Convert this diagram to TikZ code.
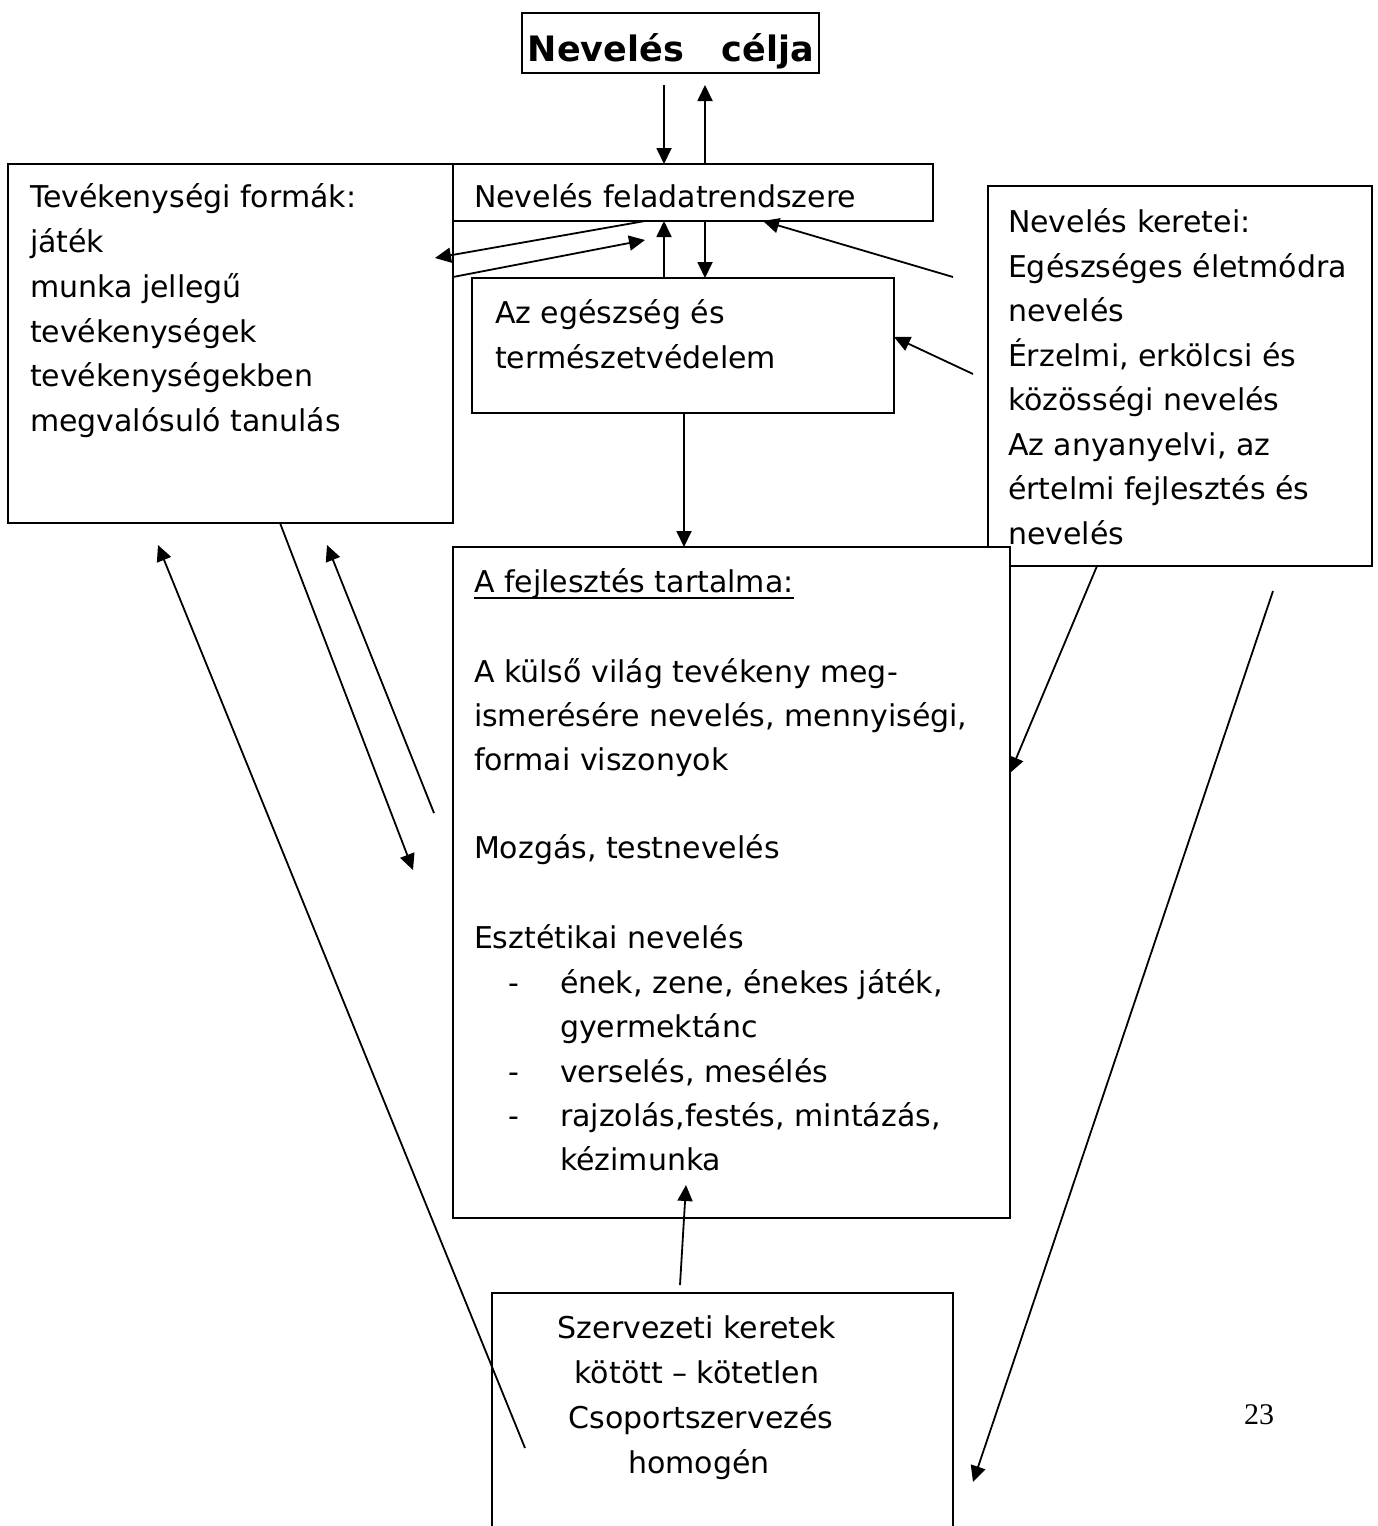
\documentclass[tikz,border=0pt]{standalone}
\usepackage{fontspec}
\setmainfont{DejaVu Sans}
\newfontfamily\pagenumfont{Liberation Serif}
\usetikzlibrary{arrows.meta}
\begin{document}
\begin{tikzpicture}[x=1pt,y=-1pt,
  box/.style={draw, line width=2.2pt, fill=white, rectangle, inner sep=0pt, outer sep=0pt, anchor=north west},
  txt/.style={anchor=base west, inner sep=0pt, outer sep=0pt, font=\fontsize{30}{36}\selectfont},
  ctxt/.style={anchor=base, inner sep=0pt, outer sep=0pt, font=\fontsize{30}{36}\selectfont},
  arr/.style={line width=1.8pt, -{Triangle[length=16pt,width=15pt]}}
]
\useasboundingbox (0,0) rectangle (1378,1526);
\clip (0,0) rectangle (1378,1526);
% boxes
\node[box, minimum width=445pt, minimum height=359pt] (tev) at (8,164) {};
\node[box, minimum width=480pt, minimum height=57pt] (fel) at (453,164) {};
\node[box, minimum width=297pt, minimum height=60pt] (cel) at (522,13) {};
\node[box, minimum width=422pt, minimum height=135pt] (egs) at (472,278) {};
\node[box, minimum width=384pt, minimum height=380pt] (ker) at (988,186) {};
\node[box, minimum width=557pt, minimum height=671pt] (fej) at (453,547) {};
\node[box, line width=1.8pt, minimum width=461pt, minimum height=247pt] (sze) at (492,1293) {};
% title
\node[ctxt, font=\bfseries\fontsize{35}{40}\selectfont] (celt) at (671,61) {Nevelés\hspace*{38pt}célja};
% feladat
\node[txt] (felt) at (474,207) {Nevelés feladatrendszere};
% tevekenysegi
\node[txt] (tv1) at (30,207) {Tevékenységi formák:};
\node[txt] (tv2) at (30,252) {játék};
\node[txt] (tv3) at (30,297) {munka jellegű};
\node[txt] (tv4) at (30,342) {tevékenységek};
\node[txt] (tv5) at (30,386) {tevékenységekben};
\node[txt] (tv6) at (30,431) {megvalósuló tanulás};
% egeszseg
\node[txt] (eg1) at (495,323) {Az egészség és};
\node[txt] (eg2) at (495,368) {természetvédelem};
% keretei
\node[txt] (kr1) at (1008,232) {Nevelés keretei:};
\node[txt] (kr2) at (1008,277) {Egészséges életmódra};
\node[txt] (kr3) at (1008,321) {nevelés};
\node[txt] (kr4) at (1008,366) {Érzelmi, erkölcsi és};
\node[txt] (kr5) at (1008,410) {közösségi nevelés};
\node[txt] (kr6) at (1008,455) {Az anyanyelvi, az};
\node[txt] (kr7) at (1008,499) {értelmi fejlesztés és};
\node[txt] (kr8) at (1008,544) {nevelés};
% fejlesztes
\node[txt] (fj0) at (474,592) {A fejlesztés tartalma:};
\draw[line width=2pt] ([yshift=-6pt]fj0.base west) -- ([yshift=-6pt]fj0.base east);
\node[txt] (fj1) at (474,682) {A külső világ tevékeny meg-};
\node[txt] (fj2) at (474,726) {ismerésére nevelés, mennyiségi,};
\node[txt] (fj3) at (474,770) {formai viszonyok};
\node[txt] (fj4) at (474,858) {Mozgás, testnevelés};
\node[txt] (fj5) at (474,948) {Esztétikai nevelés};
\node[txt] (dd1) at (508,993) {-};
\node[txt] (fj6) at (560,993) {ének, zene, énekes játék,};
\node[txt] (fj7) at (560,1037) {gyermektánc};
\node[txt] (dd2) at (508,1082) {-};
\node[txt] (fj8) at (560,1082) {verselés, mesélés};
\node[txt] (dd3) at (508,1126) {-};
\node[txt] (fj9) at (560,1126) {rajzolás,festés, mintázás,};
\node[txt] (fj10) at (560,1170) {kézimunka};
% szervezeti
\node[ctxt] (sz1) at (697,1338) {Szervezeti keretek};
\node[ctxt] (sz2) at (697,1383) {kötött – kötetlen};
\node[ctxt] (sz3) at (701,1428) {Csoportszervezés};
\node[ctxt] (sz4) at (699,1473) {homogén};
% page number
\node[anchor=base, inner sep=0pt, font=\pagenumfont\fontsize{30}{34}\selectfont] (pn) at (1259,1424) {23};
% connectors
\coordinate (p1) at (664,85);
\coordinate (p2) at (705,85);
\draw[arr] (p1) -- (p1 |- fel.north);
\draw[arr] (p2 |- fel.north) -- (p2);
\coordinate (p3s) at (645,0);
\coordinate (p3e) at (435,258);
\draw[arr] (p3s |- fel.south) -- (p3e);
\coordinate (p4s) at (0,277);
\coordinate (p4e) at (645,240);
\draw[arr] (tev.east |- p4s) -- (p4e);
\draw[arr] (p1 |- egs.north) -- (p1 |- fel.south);
\draw[arr] (p2 |- fel.south) -- (p2 |- egs.north);
\coordinate (p7s) at (953,277);
\coordinate (p7e) at (763,0);
\draw[arr] (p7s) -- (p7e |- fel.south);
\coordinate (p8s) at (973,374);
\coordinate (p8e) at (0,337);
\draw[arr] (p8s) -- (egs.east |- p8e);
\coordinate (p9) at (684,0);
\draw[arr] (p9 |- egs.south) -- (p9 |- fej.north);
\coordinate (p10s) at (1097,0);
\coordinate (p10e) at (0,773);
\draw[arr] (p10s |- ker.south) -- (fej.east |- p10e);
\coordinate (p11s) at (1273,591);
\coordinate (p11e) at (973,1482);
\draw[arr] (p11s) -- (p11e);
\coordinate (p12s) at (280,0);
\coordinate (p12e) at (413,870);
\draw[arr] (p12s |- tev.south) -- (p12e);
\coordinate (p13s) at (434,813);
\coordinate (p13e) at (327,545);
\draw[arr] (p13s) -- (p13e);
\coordinate (p14s) at (525,1448);
\coordinate (p14e) at (158,545);
\draw[arr] (p14s) -- (p14e);
\coordinate (p15s) at (680,1285);
\coordinate (p15e) at (686,1185);
\draw[arr] (p15s) -- (p15e);
\end{tikzpicture}
\end{document}
